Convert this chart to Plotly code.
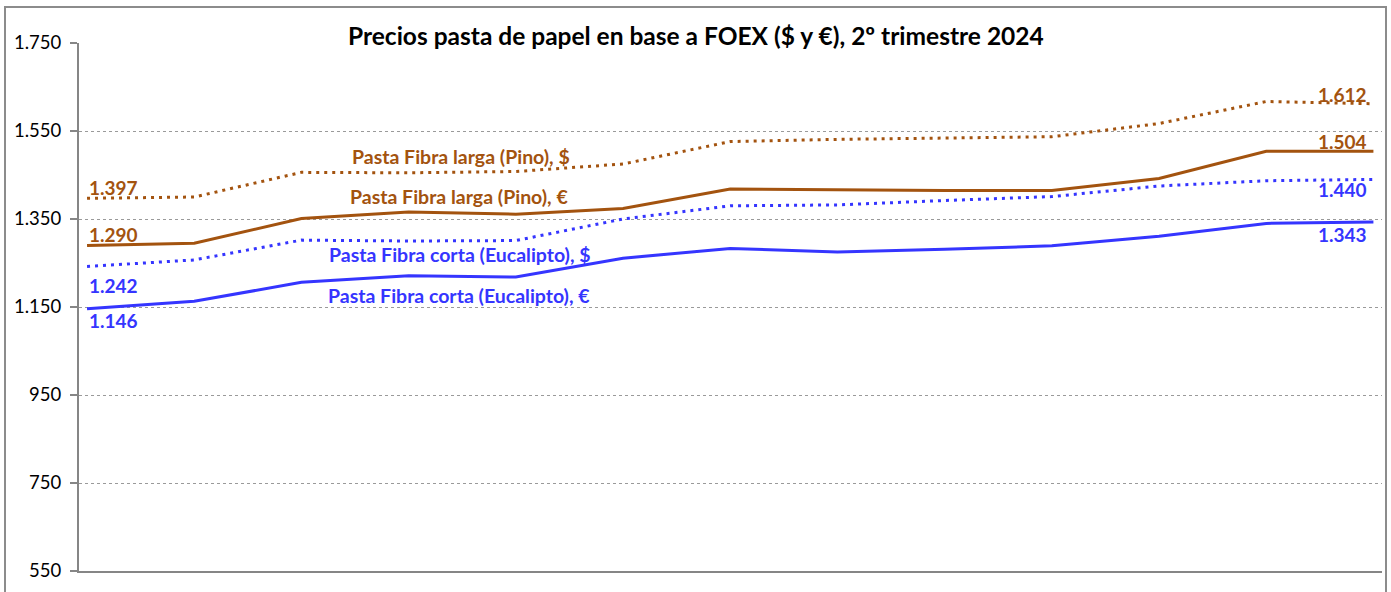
import plotly.graph_objects as go

weeks = list(range(13))
larga_usd = [1397, 1400, 1456, 1455, 1458, 1475, 1526, 1531, 1534, 1537, 1567, 1617, 1612]
larga_eur = [1290, 1295, 1351, 1366, 1361, 1374, 1418, 1416, 1415, 1415, 1442, 1504, 1504]
corta_usd = [1242, 1257, 1302, 1300, 1301, 1350, 1380, 1382, 1392, 1401, 1425, 1437, 1440]
corta_eur = [1146, 1163, 1206, 1221, 1218, 1261, 1283, 1275, 1281, 1289, 1311, 1340, 1343]
y_ticks = [550, 750, 950, 1150, 1350, 1550, 1750]

BROWN = "#A3530F"
BLUE = "#3535FF"
FONT = "Lato"

series = [
    ("Pasta Fibra larga (Pino), $", larga_usd, BROWN, "3px,5px"),
    ("Pasta Fibra larga (Pino), €", larga_eur, BROWN, "solid"),
    ("Pasta Fibra corta (Eucalipto), $", corta_usd, BLUE, "3px,5px"),
    ("Pasta Fibra corta (Eucalipto), €", corta_eur, BLUE, "solid"),
]

fig = go.Figure()
for name, vals, col, dash in series:
    fig.add_trace(go.Scatter(x=weeks, y=vals, mode="lines", name=name,
                             line=dict(color=col, width=3, dash=dash),
                             hoverinfo="skip"))

def fmt(v):
    return f"{v:,}".replace(",", ".")

ann = []
label_shifts = [(larga_usd, 11, 9, BROWN), (larga_eur, 11, 10, BROWN),
                (corta_usd, -19, -10, BLUE), (corta_eur, -12, -12, BLUE)]
for vals, s0, s1, col in label_shifts:
    ann.append(dict(x=weeks[0], y=vals[0], text=fmt(vals[0]), xanchor="left", yanchor="middle",
                    xshift=0, yshift=s0, showarrow=False,
                    font=dict(family=FONT, size=19, color=col, weight="bold")))
    ann.append(dict(x=weeks[-1], y=vals[-1], text=fmt(vals[-1]), xanchor="right", yanchor="middle",
                    xshift=-4, yshift=s1, showarrow=False,
                    font=dict(family=FONT, size=19, color=col, weight="bold")))

name_pos = [(3.49, 1492), (3.47, 1401), (3.48, 1270), (3.47, 1176)]
for (name, vals, col, dash), (xp, yp) in zip(series, name_pos):
    ann.append(dict(x=xp, y=yp, text=name, xanchor="center", yanchor="middle", showarrow=False,
                    font=dict(family=FONT, size=19.5, color=col, weight="bold")))

ann.append(dict(xref="paper", yref="paper", x=(696 - 79) / 1303, y=(571 - 35) / 528,
                text="Precios pasta de papel en base a FOEX ($ y €), 2º trimestre 2024",
                showarrow=False, xanchor="center", yanchor="middle",
                font=dict(family=FONT, size=24.5, color="black", weight="bold")))

fig.update_layout(
    width=1391, height=592,
    margin=dict(l=79, r=9, t=43, b=21),
    paper_bgcolor="white", plot_bgcolor="white",
    separators=",.",
    showlegend=False,
    annotations=ann,
    shapes=[dict(type="rect", xref="paper", yref="paper",
                 x0=(5 - 79) / 1303, x1=(1386 - 79) / 1303,
                 y0=-0.2, y1=(571 - 7) / 528,
                 line=dict(color="#8C8C8C", width=2), fillcolor="rgba(0,0,0,0)", layer="below")],
    xaxis=dict(range=[-0.075, 12.08], showgrid=False, showticklabels=False, zeroline=False,
               showline=True, linecolor="#868686", linewidth=2, ticks="", fixedrange=True),
    yaxis=dict(range=[550, 1750], tickvals=y_ticks, tickformat=",d",
               showgrid=True, gridcolor="#9A9A9A", gridwidth=1, griddash="dot",
               showline=True, linecolor="#868686", linewidth=2,
               ticks="outside", ticklen=7, tickcolor="#868686", tickwidth=2,
               ticklabelstandoff=5,
               zeroline=False, automargin=False,
               tickfont=dict(family=FONT, size=18.5, color="black")),
)

fig.write_html("out.html", config={"displayModeBar": False},
               post_script="document.body.style.margin='0';")
